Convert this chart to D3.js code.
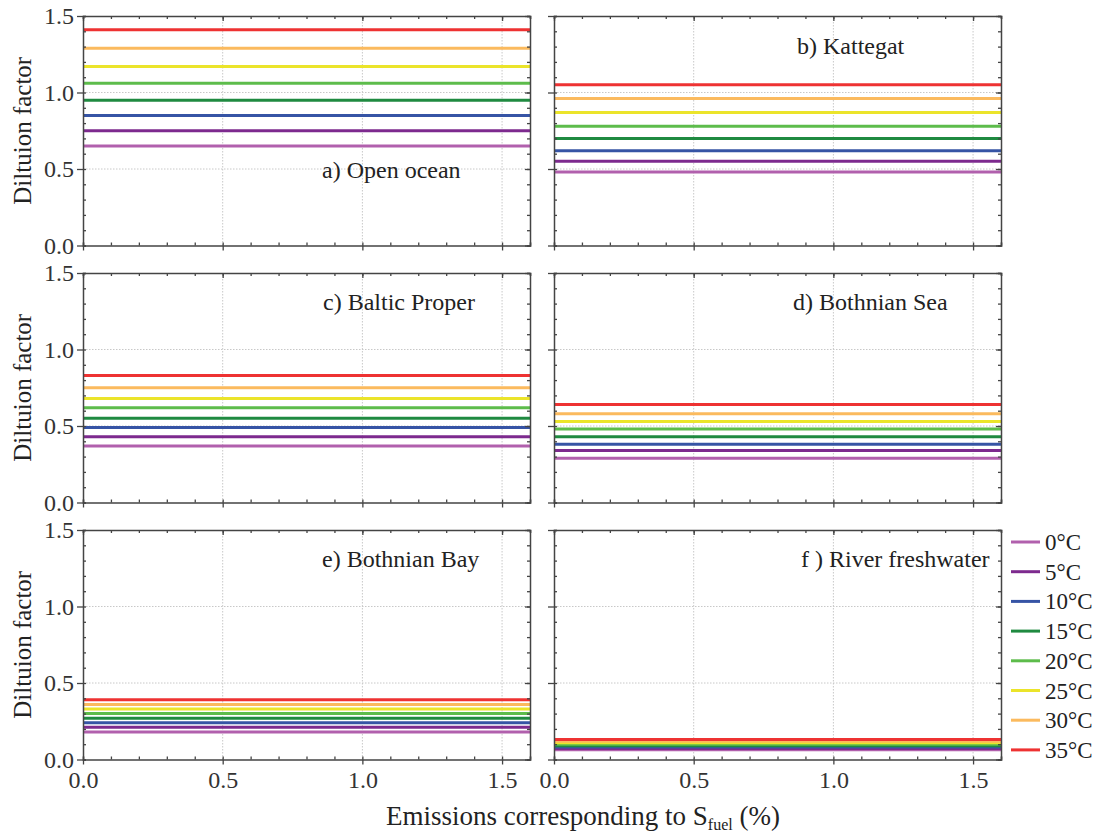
<!DOCTYPE html>
<html>
<head>
  <meta charset="utf-8">
  <title>Dilution factor panels</title>
  <script src="https://d3js.org/d3.v7.min.js"></script>
  <style>
    html, body {
      margin: 0;
      padding: 0;
      background: #fff;
    }
    .grid line {
      stroke: #c8c8c8;
      stroke-dasharray: 1.5 1.5;
    }
  </style>
</head>
<body>
  <svg id="chart" width="1100" height="833"></svg>

  <script>
    // temperatures (legend) and colours
    const temps = ["0°C", "5°C", "10°C", "15°C", "20°C", "25°C", "30°C", "35°C"];
    const colors = ["#b160ad", "#7d2a8e", "#3654a5", "#1f8a40", "#5dbc4b", "#ebe42a", "#fbba5e", "#ee3232"];

    // panel titles
    const panels = ["a) Open ocean", "b) Kattegat", "c) Baltic Proper", "d) Bothnian Sea", "e) Bothnian Bay", "f ) River freshwater"];

    // dilution factor per temperature, constant over S_fuel
    const openOcean  = [0.65, 0.75, 0.85, 0.95, 1.06, 1.17, 1.29, 1.41];
    const kattegat   = [0.48, 0.55, 0.62, 0.70, 0.78, 0.87, 0.96, 1.05];
    const baltic     = [0.37, 0.43, 0.49, 0.55, 0.62, 0.68, 0.75, 0.83];
    const bothSea    = [0.29, 0.34, 0.38, 0.43, 0.48, 0.53, 0.58, 0.64];
    const bothBay    = [0.18, 0.21, 0.24, 0.27, 0.30, 0.33, 0.36, 0.39];
    const freshwater = [0.063, 0.072, 0.081, 0.090, 0.099, 0.109, 0.119, 0.130];
    const values = [openOcean, kattegat, baltic, bothSea, bothBay, freshwater];

    // x range of the emission axis
    const sfuel = [0, 1.6];

    const serif = "'Liberation Serif', 'DejaVu Serif', 'Times New Roman', serif";

    const svg = d3.select("#chart");

    const colX = [83, 554];
    const rowY = [16, 273, 530];
    const pw = 447, ph = 229.5;

    // title positions inside each panel (start x, baseline y relative to panel)
    const titlePos = [[239, 162], [243, 38], [240, 37], [239, 37], [239, 37], [247, 37]];

    const x = d3.scaleLinear().domain(sfuel).range([0, pw]);
    const y = d3.scaleLinear().domain([0, 1.5]).range([ph, 0]);

    const majorX = [0, 0.5, 1.0, 1.5];
    const minorX = d3.range(0, 1.61, 0.1);
    const majorY = [0, 0.5, 1.0, 1.5];
    const minorY = d3.range(0, 1.51, 0.1);

    panels.forEach((title, i) => {
      const col = i % 2, row = Math.floor(i / 2);
      const g = svg.append("g").attr("transform", `translate(${colX[col]},${rowY[row]})`);

      // grid
      const grid = g.append("g").attr("class", "grid");
      grid.selectAll(".gx").data([0.5, 1.0, 1.5]).join("line")
        .attr("x1", d => x(d)).attr("x2", d => x(d))
        .attr("y1", 0).attr("y2", ph);
      grid.selectAll(".gy").data([0.5, 1.0]).join("line").attr("class", "gy")
        .attr("x1", 0).attr("x2", pw)
        .attr("y1", d => y(d)).attr("y2", d => y(d));

      // data lines
      const line = d3.line().x(d => x(d[0])).y(d => y(d[1]));
      g.selectAll(".series").data(values[i]).join("path")
        .attr("class", "series")
        .attr("fill", "none")
        .attr("stroke", (d, k) => colors[k])
        .attr("stroke-width", 3)
        .attr("d", d => line(sfuel.map(s => [s, d])));

      // axes: bottom, left outward majors; top, right mirrored
      const axisStyle = sel => {
        sel.attr("font-family", serif);
        sel.select(".domain").attr("stroke", "#444").attr("stroke-width", 1.5);
        sel.selectAll(".tick line").attr("stroke", "#444").attr("stroke-width", 1.3);
        sel.selectAll("text").attr("font-family", serif).attr("font-size", 24).attr("fill", "#333");
      };

      g.append("g").attr("transform", `translate(0,${ph})`)
        .call(d3.axisBottom(x).tickValues(minorX).tickSize(-3).tickFormat(""))
        .call(axisStyle);
      g.append("g").attr("transform", `translate(0,${ph})`)
        .call(d3.axisBottom(x).tickValues(majorX).tickSize(5).tickPadding(6)
          .tickFormat(row === 2 ? d3.format(".1f") : ""))
        .call(axisStyle)
        .call(s => s.select(".domain").remove());

      g.append("g")
        .call(d3.axisTop(x).tickValues(minorX).tickSize(-3).tickFormat(""))
        .call(axisStyle);
      g.append("g")
        .call(d3.axisTop(x).tickValues(majorX).tickSize(-5).tickFormat(""))
        .call(axisStyle)
        .call(s => s.select(".domain").remove());

      g.append("g")
        .call(d3.axisLeft(y).tickValues(minorY).tickSize(-3).tickFormat(""))
        .call(axisStyle);
      g.append("g")
        .call(d3.axisLeft(y).tickValues(majorY).tickSize(6).tickPadding(3)
          .tickFormat(col === 0 ? d3.format(".1f") : ""))
        .call(axisStyle)
        .call(s => s.select(".domain").remove());

      g.append("g").attr("transform", `translate(${pw},0)`)
        .call(d3.axisRight(y).tickValues(minorY).tickSize(-3).tickFormat(""))
        .call(axisStyle);
      g.append("g").attr("transform", `translate(${pw},0)`)
        .call(d3.axisRight(y).tickValues(majorY).tickSize(-5).tickFormat(""))
        .call(axisStyle)
        .call(s => s.select(".domain").remove());

      // panel title
      g.append("text")
        .attr("x", titlePos[i][0]).attr("y", titlePos[i][1])
        .attr("font-family", serif).attr("font-size", 24).attr("fill", "#222")
        .text(title);

      // y label
      if (col === 0) {
        svg.append("text")
          .attr("transform", `translate(31,${rowY[row] + ph / 2}) rotate(-90)`)
          .attr("text-anchor", "middle")
          .attr("font-family", serif).attr("font-size", 25).attr("fill", "#222")
          .text("Diltuion factor");
      }
    });

    // x label with subscript
    const xl = svg.append("text")
      .attr("x", 583).attr("y", 825)
      .attr("text-anchor", "middle")
      .attr("font-family", serif).attr("font-size", 27).attr("fill", "#222");
    xl.append("tspan").text("Emissions corresponding to S");
    xl.append("tspan").attr("dy", 5).attr("font-size", 16).text("fuel");
    xl.append("tspan").attr("dy", -5).text(" (%)");

    // legend
    const legend = svg.append("g").attr("transform", "translate(1011,542)");
    const item = legend.selectAll("g").data(temps).join("g")
      .attr("transform", (d, k) => `translate(0,${k * 29.7})`);
    item.append("line")
      .attr("x1", 0).attr("x2", 29)
      .attr("stroke", (d, k) => colors[k])
      .attr("stroke-width", 3);
    item.append("text")
      .attr("x", 34).attr("y", 8)
      .attr("font-family", serif).attr("font-size", 23).attr("fill", "#222")
      .text(d => d);
  </script>
</body>
</html>
